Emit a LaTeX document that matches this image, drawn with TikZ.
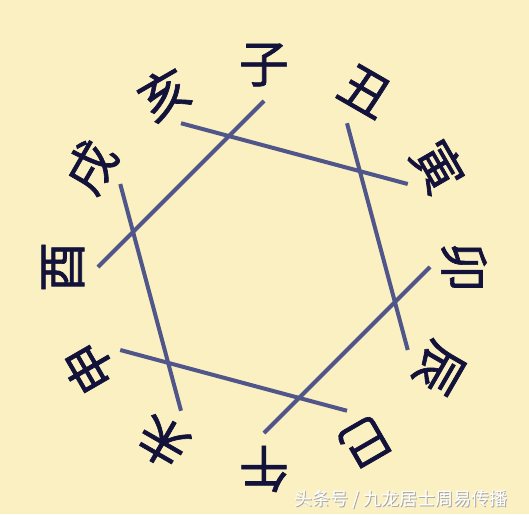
\documentclass[tikz,border=0pt]{standalone}
\usepackage{fontspec}
\newfontfamily\cjk{Noto Sans CJK SC}
\newfontfamily\cjkheavy{Noto Sans CJK SC}[FakeBold=1.3]
\definecolor{paper}{HTML}{FAF0C2}
\definecolor{ink}{HTML}{12123A}
\definecolor{chordblue}{HTML}{50558A}
\tikzset{
    %Define style for the branch characters
    branch/.style={
             text=ink,
             inner sep=0pt,
             font=\cjkheavy\fontsize{50}{50}\selectfont},
    % Define style for the chords
    pochord/.style={
            draw=chordblue,
            line width=4pt},
    % Define style for the watermark
    wmtext/.style={
            text=white,
            font=\cjk\fontsize{18}{18}\selectfont},
    wmshade/.style={
            text=black!35,
            font=\cjk\fontsize{18}{18}\selectfont}
}
\begin{document}
\begin{tikzpicture}[x=1pt, y=1pt]
 \fill[paper] (-264,-247) rectangle (265,267);
 % branches round the circle, inner ends of the chords
 \path (90:166)  coordinate (zi-in)   (90:202)  node[branch] (zi) {子};
 \path (60:166)  coordinate (chou-in) (60:203)  node[branch, rotate=-30] (chou) {丑};
 \path (30:166)  coordinate (yin-in)  (30:201)  node[branch, rotate=-60] (yin) {寅};
 \path (0:166)   coordinate (mao-in)  (0:200)   node[branch, rotate=-90] (mao) {卯};
 \path (-30:166) coordinate (chen-in) (-30:202) node[branch, rotate=-120] (chen) {辰};
 \path (-60:166) coordinate (si-in)   (-60:202) node[branch, rotate=-150] (si) {巳};
 \path (-90:166) coordinate (wu-in)   (-90:202) node[branch, rotate=180] (wu) {午};
 \path (-120:166) coordinate (wei-in) (-120:202) node[branch, rotate=150] (wei) {未};
 \path (-150:166) coordinate (shen-in) (-150:202) node[branch, rotate=120] (shen) {申};
 \path (180:166) coordinate (you-in)  (180:201) node[branch, rotate=90] (you) {酉};
 \path (150:166) coordinate (xu-in)   (150:200) node[branch, rotate=60] (xu) {戌};
 \path (120:166) coordinate (hai-in)  (120:200) node[branch, rotate=30] (hai) {亥};
 % six pairs
 \draw[pochord] (hai-in) -- (yin-in);
 \draw[pochord] (zi-in) -- (you-in);
 \draw[pochord] (chou-in) -- (chen-in);
 \draw[pochord] (xu-in) -- (wei-in);
 \draw[pochord] (mao-in) -- (wu-in);
 \draw[pochord] (shen-in) -- (si-in);
 % watermark
 \node[wmshade] (wm-shade) at (137.8,-233.8) {头条号 / 九龙居士周易传播};
 \node[wmtext] (wm) at (137,-233) {头条号 / 九龙居士周易传播};
\end{tikzpicture}
\end{document}
